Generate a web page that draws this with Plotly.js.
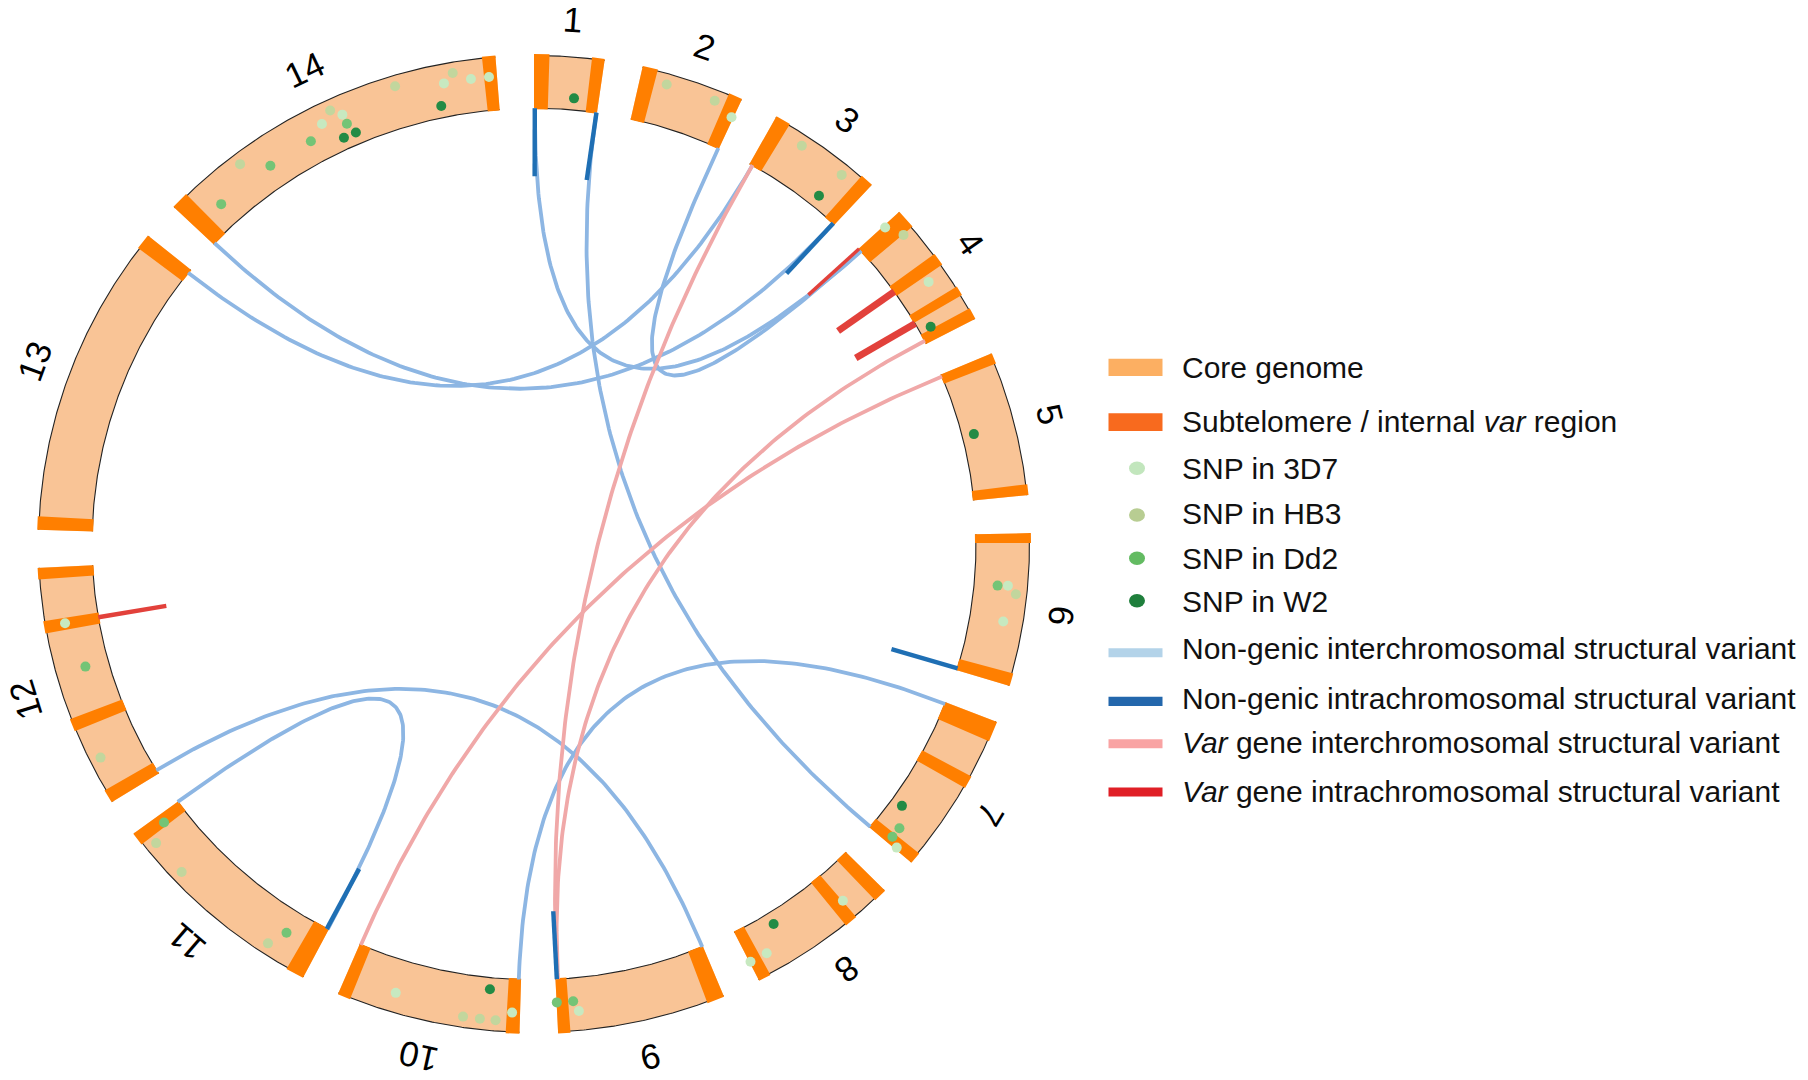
<!DOCTYPE html>
<html>
<head>
<meta charset="utf-8">
<script src="https://cdn.plot.ly/plotly-3.0.1.min.js"></script>
<style>
html,body{margin:0;padding:0;background:#ffffff;}
#chart{width:1808px;height:1080px;}
</style>
</head>
<body>
<div id="chart"></div>
<script>
// ================= DATA =================
const chromNames = ['1','2','3','4','5','6','7','8','9','10','11','12','13','14'];
const chromLengthsMb = [0.641,0.947,1.068,1.200,1.344,1.418,1.510,1.410,1.542,1.688,2.038,2.271,2.925,3.292];

// Subtelomere / internal var regions (chromosome, start Mb, end Mb)
const bandChrom = [1,1, 2,2, 3,3, 4,4,4,4, 5,5, 6,6, 7,7,7, 8,8,8, 9,9, 10,10, 11,11, 12,12,12,12, 13,13, 14,14];
const bandStart = [0,0.526, 0,0.820, 0,0.944, 0,0.500,0.860,1.090, 0,1.244, 0,1.300, 0,0.550,1.400, 0,0.355,1.295, 0,1.430, 0,1.570, 0,1.915, 0,0.730,1.665,2.165, 0,2.780, 0,3.170];
const bandEnd   = [0.140,0.641, 0.140,0.947, 0.140,1.068, 0.180,0.620,0.950,1.200, 0.100,1.344, 0.090,1.418, 0.190,0.670,1.510, 0.125,0.475,1.410, 0.160,1.542, 0.125,1.688, 0.170,2.038, 0.125,0.850,1.780,2.271, 0.125,2.925, 0.163,3.292];

// SNPs (chromosome, position Mb, strain)
const snpChrom = [1,
  2,2,2,
  3,3,3,
  4,4,4,4,
  5,
  6,6,6,6,
  7,7,7,7,
  8,8,8,8,
  9,9,9,
  10,10,10,10,10,10,
  11,11,11,11,11,
  12,12,12,
  14,14,14,14,14,14,14,14,14,14,14,14,14,14,14,14];
const snpPos = [0.396,
  0.254,0.724,0.930,
  0.340,0.759,0.799,
  0.020,0.186,0.683,1.067,
  0.680,
  0.507,0.500,0.572,0.845,
  1.137,1.329,1.436,1.490,
  0.350,1.024,1.227,1.400,
  1.540,1.382,1.336,
  0.075,0.225,0.305,0.371,0.528,1.191,
  0.346,0.438,1.483,1.843,1.952,
  0.411,1.277,1.729,
  0.336,0.718,0.941,1.399,1.569,1.694,1.782,1.786,1.703,1.832,2.337,2.718,2.787,2.885,3.045,3.216];
const snpStrain = ['W2',
  'HB3','HB3','3D7',
  'HB3','W2','HB3',
  '3D7','HB3','3D7','W2',
  'W2',
  'Dd2','3D7','HB3','3D7',
  'W2','Dd2','Dd2','3D7',
  '3D7','W2','3D7','3D7',
  'Dd2','Dd2','3D7',
  '3D7','HB3','W2','HB3','HB3','3D7',
  'Dd2','HB3','HB3','HB3','Dd2',
  'HB3','Dd2','3D7',
  'Dd2','HB3','Dd2','Dd2','3D7','HB3','3D7','Dd2','W2','W2','HB3','W2','3D7','HB3','3D7','3D7'];
const strainNames = ['3D7','HB3','Dd2','W2'];

// Interchromosomal structural variants (links)
const linkType   = ['nongenic','nongenic','nongenic','nongenic','nongenic','nongenic','nongenic','nongenic','var','var','var'];
const linkChromA = [1, 1, 2, 14, 13, 12, 11, 7, 3, 4, 5];
const linkPosA   = [0.008, 0.634, 0.940, 0.016, 2.884, 0.041, 2.037, 0.019, 0.033, 1.166, 0.023];
const linkChromB = [4, 7, 4, 3, 3, 9, 11, 10, 9, 9, 10];
const linkPosB   = [0.035, 1.500, 0.030, 1.050, 0.033, 0.008, 0.010, 0.023, 1.524, 1.516, 1.674];

// Intrachromosomal structural variants (spikes): chromosome, position, span (Mb)
const intraType   = ['nongenic','nongenic','nongenic','nongenic','nongenic','nongenic','var','var','var','var'];
const intraChrom  = [1, 1, 3, 6, 9, 11, 4, 4, 4, 12];
const intraPos    = [0.008, 0.636, 1.050, 1.399, 1.528, 0.020, 0.004, 0.571, 0.962, 1.732];
const intraSpanMb = [0.045, 0.045, 0.045, 0.045, 0.045, 0.045, 0.035, 0.070, 0.070, 0.045];

// Legend labels
const legendLabels = [
  'Core genome',
  'Subtelomere / internal <i>var</i> region',
  'SNP in 3D7','SNP in HB3','SNP in Dd2','SNP in W2',
  'Non-genic interchromosomal structural variant',
  'Non-genic intrachromosomal structural variant',
  '<i>Var</i> gene interchromosomal structural variant',
  '<i>Var</i> gene intrachromosomal structural variant'
];

// ================= GEOMETRY / STYLE =================
const W = 1808, H = 1080;
const CX = 534, CY = 544, YS = 0.9859;        // circle centre (px), vertical scale
const GAP = 4.46;                              // degrees between chromosomes
const R_IN = 442, R_OUT = 495.5, TICK_R = 373, LABEL_R = 533;
const trackR = {'W2':453.8,'Dd2':465.5,'3D7':475.8,'HB3':484.6};
const snpColor = {'3D7':'#C7E9C0','HB3':'#C2D69D','Dd2':'#74C476','W2':'#238B45'};
const linkColor = {'nongenic':'#8DB6E3','var':'#F0A8A8'};
const intraColor = {'nongenic':'#1F6FB4','var':'#E2413B'};
const FONT = 'Liberation Sans, Arial, Helvetica, sans-serif';

const totalLen = chromLengthsMb.reduce((a,b)=>a+b,0);
const K = (360 - chromNames.length*GAP) / totalLen;   // degrees per Mb
const chromStart = [];
{ let a = 0; chromLengthsMb.forEach(L => { chromStart.push(a); a += L*K + GAP; }); }
const angOf = (c, pos) => chromStart[c-1] + pos*K;
const polar = (deg, r) => { const t = deg*Math.PI/180; return [r*Math.sin(t), r*Math.cos(t)]; };

const traces = [];

// ---- chromosome ring fill ----
{
  const xs=[], ys=[];
  chromLengthsMb.forEach((L,i) => {
    const a0 = chromStart[i], a1 = a0 + L*K;
    const n = Math.max(8, Math.ceil((a1-a0)/0.25));
    for (let j=0;j<=n;j++){ const p=polar(a0+(a1-a0)*j/n, R_OUT); xs.push(p[0]); ys.push(p[1]); }
    for (let j=n;j>=0;j--){ const p=polar(a0+(a1-a0)*j/n, R_IN); xs.push(p[0]); ys.push(p[1]); }
    xs.push(null); ys.push(null);
  });
  traces.push({type:'scatter', mode:'lines', x:xs, y:ys, fill:'toself', fillcolor:'#F9C496',
    line:{width:0, color:'rgba(0,0,0,0)'}, hoverinfo:'skip', showlegend:false});
}
// ---- ring outlines ----
{
  const xs=[], ys=[];
  chromLengthsMb.forEach((L,i) => {
    const a0 = chromStart[i], a1 = a0 + L*K;
    const n = Math.max(8, Math.ceil((a1-a0)/0.25));
    [R_OUT, R_IN].forEach(r => {
      for (let j=0;j<=n;j++){ const p=polar(a0+(a1-a0)*j/n, r); xs.push(p[0]); ys.push(p[1]); }
      xs.push(null); ys.push(null);
    });
  });
  traces.push({type:'scatter', mode:'lines', x:xs, y:ys, line:{width:1.1, color:'#222222'},
    hoverinfo:'skip', showlegend:false, connectgaps:false});
}
// ---- subtelomere / var region bands ----
{
  const xs=[], ys=[];
  bandChrom.forEach((c,i) => {
    const a0 = angOf(c, bandStart[i]), a1 = angOf(c, bandEnd[i]);
    const n = 6;
    for (let j=0;j<=n;j++){ const p=polar(a0+(a1-a0)*j/n, R_OUT+1.5); xs.push(p[0]); ys.push(p[1]); }
    for (let j=n;j>=0;j--){ const p=polar(a0+(a1-a0)*j/n, R_IN-1); xs.push(p[0]); ys.push(p[1]); }
    xs.push(null); ys.push(null);
  });
  traces.push({type:'scatter', mode:'lines', x:xs, y:ys, fill:'toself', fillcolor:'#FF7F00',
    line:{width:0, color:'rgba(0,0,0,0)'}, hoverinfo:'skip', showlegend:false});
}
// ---- SNPs ----
strainNames.forEach(s => {
  const xs=[], ys=[];
  snpStrain.forEach((st,i) => {
    if (st !== s) return;
    const p = polar(angOf(snpChrom[i], snpPos[i]), trackR[s]);
    xs.push(p[0]); ys.push(p[1]);
  });
  traces.push({type:'scatter', mode:'markers', x:xs, y:ys, name:'SNP in '+s,
    marker:{size:10, color:snpColor[s], line:{width:0}}, hoverinfo:'skip', showlegend:false});
});
// ---- interchromosomal links (quadratic Bezier through centre) ----
['nongenic','var'].forEach(tp => {
  const xs=[], ys=[];
  linkType.forEach((t,i) => {
    if (t !== tp) return;
    const p0 = polar(angOf(linkChromA[i], linkPosA[i]), R_IN);
    const p2 = polar(angOf(linkChromB[i], linkPosB[i]), R_IN);
    const n = 140;
    for (let j=0;j<=n;j++){
      const tt=j/n, a=(1-tt)*(1-tt), b=tt*tt;
      xs.push(a*p0[0]+b*p2[0]); ys.push(a*p0[1]+b*p2[1]);
    }
    xs.push(null); ys.push(null);
  });
  traces.push({type:'scatter', mode:'lines', x:xs, y:ys, line:{width:3.8, color:linkColor[tp]},
    hoverinfo:'skip', showlegend:false, connectgaps:false});
});
// ---- intrachromosomal spikes (one trace each: width follows span) ----
intraType.forEach((tp,i) => {
  const a = angOf(intraChrom[i], intraPos[i]);
  const p0 = polar(a, R_IN), p1 = polar(a, TICK_R);
  const wpx = intraSpanMb[i] * K * Math.PI/180 * R_IN;
  traces.push({type:'scatter', mode:'lines', x:[p0[0],p1[0]], y:[p0[1],p1[1]],
    line:{width:wpx, color:intraColor[tp]}, hoverinfo:'skip', showlegend:false});
});

// ---- chromosome labels ----
const annotations = chromNames.map((nm,i) => {
  const mid = chromStart[i] + chromLengthsMb[i]*K/2;
  const p = polar(mid, LABEL_R);
  return {x:p[0], y:p[1], xref:'x', yref:'y', text:nm, showarrow:false,
    textangle: mid, xanchor:'center', yanchor:'middle',
    font:{family:FONT, size:35, color:'#000000'}};
});

// ---- legend (drawn manually) ----
const px = x => x / W, py = y => 1 - y / H;
const shapes = [];
const legendRows = [
  {kind:'rect', y0:358.7, y1:376.0, ty:367.0, color:'#FCAF62'},
  {kind:'rect', y0:413.3, y1:431.0, ty:421.5, color:'#F86A1E'},
  {kind:'dot',  cy:468.3, ty:468.0, color:'#C2E6BD'},
  {kind:'dot',  cy:515.0, ty:514.0, color:'#B8CD92'},
  {kind:'dot',  cy:558.3, ty:558.5, color:'#63BB62'},
  {kind:'dot',  cy:600.7, ty:601.5, color:'#1F7F3C'},
  {kind:'rect', y0:648.3, y1:657.3, ty:648.0, color:'#B3D3E9'},
  {kind:'rect', y0:696.7, y1:706.0, ty:698.0, color:'#2367AC'},
  {kind:'rect', y0:739.2, y1:748.2, ty:742.5, color:'#F9A3A3'},
  {kind:'rect', y0:787.5, y1:796.5, ty:791.0, color:'#E01F26'}
];
legendRows.forEach((row,i) => {
  if (row.kind === 'rect') {
    shapes.push({type:'rect', xref:'paper', yref:'paper', x0:px(1108.5), x1:px(1162.5),
      y0:py(row.y1), y1:py(row.y0), fillcolor:row.color, line:{width:0}});
  } else {
    shapes.push({type:'circle', xref:'paper', yref:'paper', x0:px(1129), x1:px(1145),
      y0:py(row.cy+6.8), y1:py(row.cy-6.8), fillcolor:row.color, line:{width:0}});
  }
  annotations.push({xref:'paper', yref:'paper', x:px(1180), y:py(row.ty), text:legendLabels[i],
    showarrow:false, xanchor:'left', yanchor:'middle', align:'left',
    font:{family:FONT, size:30, color:'#111111'}});
});

const layout = {
  width: W, height: H,
  margin:{l:0,r:0,t:0,b:0,pad:0},
  paper_bgcolor:'#ffffff', plot_bgcolor:'#ffffff',
  showlegend:false,
  xaxis:{domain:[0,1], range:[-CX, W-CX], visible:false, showgrid:false, zeroline:false, fixedrange:true},
  yaxis:{domain:[0,1], range:[-(H-CY)/YS, CY/YS], visible:false, showgrid:false, zeroline:false, fixedrange:true},
  annotations: annotations,
  shapes: shapes,
  hovermode:false
};

Plotly.newPlot('chart', traces, layout, {staticPlot:true, displayModeBar:false});
</script>
</body>
</html>
